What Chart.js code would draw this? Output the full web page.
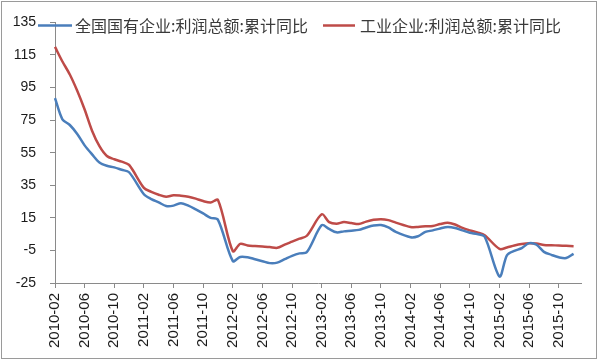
<!DOCTYPE html>
<html>
<head>
<meta charset="utf-8">
<script src="https://cdn.jsdelivr.net/npm/chart.js@4.4.1/dist/chart.umd.min.js"></script>
<style>
  html, body { margin: 0; padding: 0; background: #fff; }
  #wrap { position: relative; width: 600px; height: 361px; }
  #frame { position: absolute; left: 1px; top: 1px; width: 596px; height: 358px; box-sizing: border-box; border: 1px solid #9a9a9a; pointer-events: none; }
  canvas { position: absolute; left: 0; top: 0; }
</style>
</head>
<body>
<div id="wrap">
  <canvas id="c" width="600" height="361"></canvas>
  <div id="frame"></div>
</div>
<script>
// Monthly categories (January has no separate figure: Jan-Feb reported together)
const months = [
  '2010-02','2010-03','2010-04','2010-05','2010-06','2010-07','2010-08','2010-09','2010-10','2010-11','2010-12',
  '2011-01','2011-02','2011-03','2011-04','2011-05','2011-06','2011-07','2011-08','2011-09','2011-10','2011-11','2011-12',
  '2012-01','2012-02','2012-03','2012-04','2012-05','2012-06','2012-07','2012-08','2012-09','2012-10','2012-11','2012-12',
  '2013-01','2013-02','2013-03','2013-04','2013-05','2013-06','2013-07','2013-08','2013-09','2013-10','2013-11','2013-12',
  '2014-01','2014-02','2014-03','2014-04','2014-05','2014-06','2014-07','2014-08','2014-09','2014-10','2014-11','2014-12',
  '2015-01','2015-02','2015-03','2015-04','2015-05','2015-06','2015-07','2015-08','2015-09','2015-10','2015-11','2015-12',
  '2016-01'
];

const seriesNames = ['全国国有企业:利润总额:累计同比', '工业企业:利润总额:累计同比'];

// 全国国有企业:利润总额:累计同比 (%)
const soeProfit = [
  88.5, 75.5, 72, 66.5, 59.5, 54, 49, 47, 46, 44.5, 43,
  null, 29.5, 26.5, 24.5, 22.3, 22.5, 24, 22.5, 20.2, 17.7, 15, 13.8,
  null, -11.5, -9, -9.2, -10.4, -11.6, -12.8, -12.5, -10.4, -8.3, -6.8, -6,
  null, 10.5, 8.2, 6.1, 6.7, 7.1, 7.6, 9.1, 10.3, 10.6, 9.1, 6.4,
  null, 3.1, 3.7, 6.4, 7.3, 8.5, 9.4, 8.8, 7.3, 5.8, 5, 3.4,
  null, -21, -8, -5.3, -3.6, -0.5, -1.5, -5.9, -7.7, -9.2, -9.7, -7.1,
  null
];

// 工业企业:利润总额:累计同比 (%)
const industryProfit = [
  120, 111, 103, 93, 81.5, 68.5, 59, 53, 51, 49.5, 47.5,
  null, 33.4, 31, 29.2, 28, 28.9, 28.6, 28, 26.8, 25.3, 24.4, 25.9,
  null, -5.5, -1, -2, -2.3, -2.6, -2.9, -3.4, -1.4, 0.4, 2.2, 4,
  null, 17.2, 12.4, 11.4, 12.4, 11.8, 11.2, 12.7, 13.8, 14.2, 13.6, 12.1,
  null, 9.4, 9.4, 9.8, 10, 11.2, 12, 10.9, 8.8, 7.3, 6, 4.3,
  null, -4.1, -3.2, -2, -1.1, -0.6, -0.8, -1.6, -1.8, -2, -2.2, -2.4,
  null
];

const yMin = -25, yMax = 135, yStep = 20;
const tickEvery = 4;

const colors = ['#4A7EBB', '#BE4B48'];
const axisColor = '#8a8a8a';
const tickFont = { family: '"Liberation Sans", Arial, sans-serif', size: 14 };

// Legend drawn inside the plot area (overlapping the top), like the original
const overlayLegend = {
  id: 'overlayLegend',
  afterDraw(chart) {
    const ctx = chart.ctx;
    const items = [
      { x1: 38, x2: 72, tx: 75 },
      { x1: 323, x2: 355, tx: 360 }
    ];
    const y = 25.5;
    ctx.save();
    ctx.font = '16px "Noto Sans CJK SC", sans-serif';
    ctx.textBaseline = 'middle';
    ctx.textAlign = 'left';
    chart.data.datasets.forEach((ds, i) => {
      const it = items[i];
      ctx.strokeStyle = ds.borderColor;
      ctx.lineWidth = 2.5;
      ctx.beginPath();
      ctx.moveTo(it.x1, y);
      ctx.lineTo(it.x2, y);
      ctx.stroke();
      ctx.fillStyle = '#3a3a3a';
      ctx.fillText(ds.label, it.tx, y);
    });
    ctx.restore();
  }
};

new Chart(document.getElementById('c'), {
  type: 'line',
  data: {
    labels: months,
    datasets: [
      { label: seriesNames[0], data: soeProfit, borderColor: colors[0], backgroundColor: colors[0],
        borderWidth: 2.5, pointRadius: 0, tension: 0.3, spanGaps: true },
      { label: seriesNames[1], data: industryProfit, borderColor: colors[1], backgroundColor: colors[1],
        borderWidth: 2.5, pointRadius: 0, tension: 0.3, spanGaps: true }
    ]
  },
  options: {
    responsive: false,
    animation: false,
    devicePixelRatio: 1,
    layout: { padding: { left: 0, right: 19, top: 19, bottom: 0 } },
    plugins: {
      legend: { display: false },
      tooltip: { enabled: false }
    },
    scales: {
      x: {
        type: 'category',
        offset: false,
        afterBuildTicks: (axis) => { axis.ticks = axis.ticks.filter(t => t.value % tickEvery === 0); },
        afterFit: (scale) => { scale.height = 78; },
        grid: { display: true, drawOnChartArea: false, drawTicks: true, tickLength: 5, color: axisColor },
        border: { display: true, color: axisColor, width: 1 },
        ticks: {
          autoSkip: false, maxRotation: 90, minRotation: 90, padding: 5,
          color: '#1a1a1a', font: { family: tickFont.family, size: 15 }
        }
      },
      y: {
        min: yMin, max: yMax,
        afterFit: (scale) => { scale.width = 55; },
        grid: { display: true, drawOnChartArea: false, drawTicks: true, tickLength: 5, color: axisColor },
        border: { display: true, color: axisColor, width: 1 },
        ticks: { stepSize: yStep, padding: 14, color: '#1a1a1a', font: tickFont }
      }
    }
  },
  plugins: [overlayLegend]
});
</script>
</body>
</html>
